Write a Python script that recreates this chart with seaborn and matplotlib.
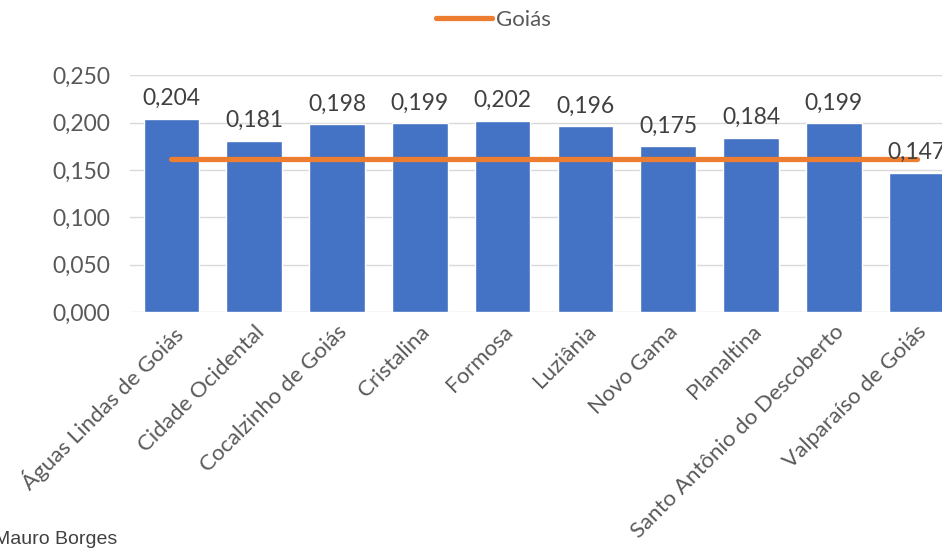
import seaborn as sns
import matplotlib.pyplot as plt
import pandas as pd

municipios = ['Águas Lindas de Goiás', 'Cidade Ocidental', 'Cocalzinho de Goiás',
              'Cristalina', 'Formosa', 'Luziânia', 'Novo Gama', 'Planaltina',
              'Santo Antônio do Descoberto', 'Valparaíso de Goiás']
valores = [0.204, 0.181, 0.198, 0.199, 0.202, 0.196, 0.175, 0.184, 0.199, 0.147]
goias = 0.162

df = pd.DataFrame({'municipio': municipios, 'valor': valores})

sns.set_style('white')
plt.rcParams['font.family'] = ['Lato', 'DejaVu Sans']

fig = plt.figure(figsize=(9.42, 5.53), dpi=100)
ax = fig.add_axes([0.138, 0.436, 0.879, 0.428])

sns.barplot(data=df, x='municipio', y='valor', color='#4472C4', saturation=1,
            width=0.67, ax=ax, zorder=2)
sns.lineplot(x=list(range(len(municipios))), y=[goias] * len(municipios),
             color='#ED7D31', linewidth=3.8, ax=ax, zorder=3,
             solid_capstyle='round', label='Goiás')

for i, v in enumerate(valores):
    ax.annotate(f'{v:.3f}'.replace('.', ','), (i, v), xytext=(0, 7),
                textcoords='offset points', ha='center', va='bottom',
                fontsize=16.5, color='#404040')

ax.set_ylim(0, 0.25)
ax.set_yticks([0, 0.05, 0.1, 0.15, 0.2, 0.25])
ax.set_yticklabels([f'{t:.3f}'.replace('.', ',') for t in ax.get_yticks()],
                   fontsize=16.5, color='#595959')
ax.set_xticks(range(len(municipios)))
ax.set_xticklabels(municipios, rotation=45, ha='right', rotation_mode='anchor',
                   fontsize=16, color='#595959')
ax.tick_params(axis='x', length=0, pad=7)
ax.tick_params(axis='y', length=0, pad=14)
ax.set_xlabel('')
ax.set_ylabel('')
ax.grid(axis='y', color='#D9D9D9', linewidth=1, zorder=0)
for s in ax.spines.values():
    s.set_visible(False)
ax.set_xlim(-0.5, 9.5)

ax.legend(loc='center', bbox_to_anchor=(0.524, 0.964), bbox_transform=fig.transFigure,
          frameon=False, fontsize=16, labelcolor='#595959', handlelength=2.5,
          handletextpad=0.2)

fig.text(-0.006, 0.024, 'Mauro Borges', fontsize=14, color='#404040',
         family='Liberation Sans', ha='left', va='center')

fig.savefig('out.png', dpi=100)
